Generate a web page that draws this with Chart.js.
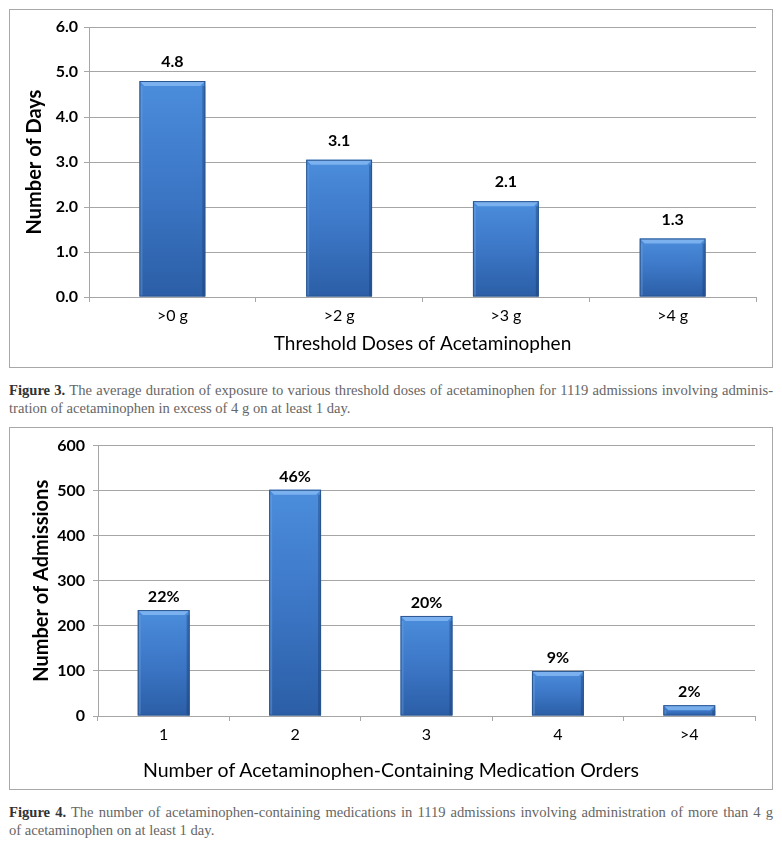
<!DOCTYPE html>
<html>
<head>
<meta charset="utf-8">
<script src="https://cdn.jsdelivr.net/npm/chart.js@4.4.0/dist/chart.umd.min.js"></script>
<style>
  body { margin: 0; background: #fff; width: 782px; height: 843px; position: relative; overflow: hidden; }
  .box { position: absolute; left: 9px; width: 762px; border: 1px solid #a8a8a8; }
  .box canvas { display: block; }
  .caption { position: absolute; left: 9px; width: 764px; font-family: "Liberation Serif", serif;
             font-size: 14.6px; line-height: 18px; color: #666; }
  .caption b { color: #333; }
  .caption .l1 { text-align: justify; text-align-last: justify; white-space: nowrap; }
  .xtitle { position: absolute; left: 0; width: 782px; text-align: center; font-family: Lato, sans-serif;
            font-size: 19.5px; color: #000; }
</style>
</head>
<body>

<div class="box" style="top:9px;height:357px;"><canvas id="days-chart" width="762" height="357"></canvas></div>
<div class="caption" style="top:381px;">
  <div class="l1"><b>Figure 3.</b> The average duration of exposure to various threshold doses of acetaminophen for 1119 admissions involving adminis-</div>
  <div>tration of acetaminophen in excess of 4 g on at least 1 day.</div>
</div>

<div class="box" style="top:427px;height:361px;"><canvas id="orders-chart" width="762" height="361"></canvas></div>
<div class="xtitle" style="top:758px;">Number of Acetaminophen-Containing Medication Orders</div>
<div class="caption" style="top:803px;">
  <div class="l1"><b>Figure 4.</b> The number of acetaminophen-containing medications in 1119 admissions involving administration of more than 4 g</div>
  <div>of acetaminophen on at least 1 day.</div>
</div>

<script>
// Figure 3 : durée moyenne par seuil de dose
const doseLabels = ['>0 g', '>2 g', '>3 g', '>4 g'];
const doseDays = [4.8, 3.05, 2.13, 1.3];
const doseDayLabels = ['4.8', '3.1', '2.1', '1.3'];

// Figure 4 : nombre de prescriptions contenant de l'acétaminophène
const orderLabels = ['1', '2', '3', '4', '>4'];
const orderAdmissions = [235, 502, 222, 100, 24];
const orderPercents = ['22%', '46%', '20%', '9%', '2%'];

const FONT = 'Lato, sans-serif';
const GRID = '#a6a6a6';

// Dégradé vertical propre à chaque barre
function barGradient(context) {
  const chart = context.chart;
  const y = chart.scales.y;
  if (!chart.chartArea || !y) return '#3a78c8';
  const top = y.getPixelForValue(context.raw);
  const base = y.getPixelForValue(0);
  const g = chart.ctx.createLinearGradient(0, top, 0, base);
  g.addColorStop(0, '#4b8ddc');
  g.addColorStop(0.5, '#3c77c6');
  g.addColorStop(1, '#2b5ea6');
  return g;
}

// Biseau clair en haut et bords des barres
const bevelPlugin = {
  id: 'bevel',
  afterDatasetsDraw(chart) {
    const ctx = chart.ctx;
    chart.getDatasetMeta(0).data.forEach(bar => {
      const p = bar.getProps(['x', 'y', 'base', 'width'], true);
      const l = p.x - p.width / 2, r = p.x + p.width / 2;
      const b = Math.min(5, (p.base - p.y) / 2);
      ctx.save();
      ctx.fillStyle = 'rgba(140, 190, 245, 0.75)';
      ctx.beginPath();
      ctx.moveTo(l, p.y); ctx.lineTo(r, p.y); ctx.lineTo(r - b, p.y + b); ctx.lineTo(l + b, p.y + b);
      ctx.closePath(); ctx.fill();
      ctx.fillStyle = 'rgba(120, 170, 230, 0.35)';
      ctx.fillRect(l, p.y + b, 3, p.base - p.y - b);
      ctx.fillStyle = 'rgba(20, 50, 100, 0.35)';
      ctx.fillRect(r - 3, p.y + b, 3, p.base - p.y - b);
      ctx.strokeStyle = '#2a568f';
      ctx.lineWidth = 1;
      ctx.strokeRect(l + 0.5, p.y + 0.5, p.width - 1, p.base - p.y - 1);
      ctx.restore();
    });
  }
};

// Étiquettes de valeurs au-dessus des barres
const valueLabelPlugin = {
  id: 'valueLabels',
  afterDatasetsDraw(chart, args, opts) {
    const ctx = chart.ctx;
    ctx.save();
    ctx.font = 'bold 16px ' + FONT;
    ctx.fillStyle = '#000';
    ctx.textAlign = 'center';
    ctx.textBaseline = 'middle';
    chart.getDatasetMeta(0).data.forEach((bar, i) => {
      ctx.fillText(opts.labels[i], bar.x, bar.y - opts.offset);
    });
    ctx.restore();
  }
};

function makeChart(canvasId, labels, values, valueLabels, cfg) {
  const ctx = document.getElementById(canvasId).getContext('2d');
  return new Chart(ctx, {
    type: 'bar',
    data: {
      labels: labels,
      datasets: [{
        data: values,
        backgroundColor: barGradient,
        borderWidth: 0,
        barPercentage: 0.79,
        categoryPercentage: 0.5
      }]
    },
    options: {
      responsive: false,
      animation: false,
      layout: { padding: { left: 0, right: cfg.right, top: cfg.top, bottom: 0 } },
      plugins: {
        legend: { display: false },
        tooltip: { enabled: false },
        valueLabels: { labels: valueLabels, offset: cfg.labelOffset }
      },
      scales: {
        x: {
          afterFit: s => { s.height = cfg.xHeight; },
          border: { color: GRID },
          grid: { drawOnChartArea: false, color: GRID, tickLength: 5, offset: true },
          ticks: { color: '#000', padding: 4, font: { family: FONT, size: 16 } },
          title: cfg.xTitle ? {
            display: true, text: cfg.xTitle, color: '#000',
            font: { family: FONT, size: 19 }, padding: { top: 0, bottom: 12 }
          } : { display: false }
        },
        y: {
          min: 0, max: cfg.max,
          afterFit: s => { s.width = cfg.yWidth; },
          border: { color: GRID },
          grid: { color: GRID, tickLength: 5 },
          ticks: {
            stepSize: cfg.step, color: '#000', padding: cfg.tickPad,
            font: { family: FONT, size: 16, weight: 'bold' },
            callback: cfg.tickFormat
          },
          title: {
            display: true, text: cfg.yTitle, color: '#000',
            font: { family: FONT, size: 20, weight: 'bold' },
            padding: { top: cfg.yTitlePad, bottom: 0 }
          }
        }
      }
    },
    plugins: [bevelPlugin, valueLabelPlugin]
  });
}

makeChart('days-chart', doseLabels, doseDays, doseDayLabels, {
  max: 6, step: 1, tickFormat: v => v.toFixed(1),
  yTitle: 'Number of Days', xTitle: 'Threshold Doses of Acetaminophen',
  yWidth: 79, xHeight: 70, top: 17, right: 16, tickPad: 6, yTitlePad: 13, labelOffset: 19
});

makeChart('orders-chart', orderLabels, orderAdmissions, orderPercents, {
  max: 600, step: 100, tickFormat: v => v,
  yTitle: 'Number of Admissions', xTitle: null,
  yWidth: 88, xHeight: 73, top: 17, right: 17, tickPad: 8, yTitlePad: 20, labelOffset: 13
});
</script>
</body>
</html>
